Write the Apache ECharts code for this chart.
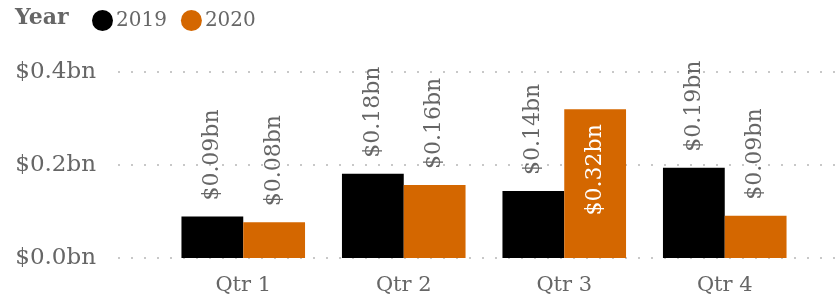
<!DOCTYPE html>
<html lang="en">
<head>
  <meta charset="UTF-8">
  <title>Revenue by quarter</title>
  <script src="https://cdn.jsdelivr.net/npm/echarts@6/dist/echarts.min.js"></script>
</head>
<body style="margin:0;width:837px;height:301px;overflow:hidden;background:#fff;">
  <div id="main" style="width:837px;height:301px;"></div>
</body>
<script>
  var quarters = ['Qtr 1', 'Qtr 2', 'Qtr 3', 'Qtr 4'];
  var years = ['2019', '2020'];
  var values2019 = [0.089, 0.181, 0.144, 0.194];
  var values2020 = [0.077, 0.157, 0.320, 0.091];
  var yTicks = [0, 0.2, 0.4];

  var FONT = 'Georgia, "DejaVu Serif", serif';
  var GREY = '#666';
  var colors = ['#000000', '#d46700'];

  var myChart = echarts.init(document.getElementById('main'));

  function money(v, d) {
    return '$' + v.toFixed(d) + 'bn';
  }

  // labels sit above the bar, or inside when the bar is tall
  function withLabels(arr) {
    return arr.map(function (v) {
      if (v > 0.25) {
        return {
          value: v,
          label: {
            position: 'insideTop',
            distance: 15,
            align: 'right',
            color: '#fff'
          }
        };
      }
      return v;
    });
  }

  var labelStyle = {
    show: true,
    position: 'top',
    distance: 16,
    rotate: 90,
    align: 'left',
    verticalAlign: 'middle',
    color: GREY,
    fontFamily: FONT,
    fontSize: 22,
    formatter: function (p) { return money(p.value, 2); }
  };

  var option = {
    backgroundColor: '#fff',
    animation: false,
    textStyle: { fontFamily: FONT },
    title: {
      text: 'Year',
      left: 10,
      top: 2,
      textStyle: { color: GREY, fontFamily: FONT, fontSize: 22, fontWeight: 'bold' }
    },
    legend: {
      data: years,
      left: 87,
      top: 5,
      icon: 'circle',
      itemWidth: 21,
      itemHeight: 21,
      itemGap: 14,
      textStyle: { color: GREY, fontFamily: FONT, fontSize: 20, padding: [0, 0, 0, -2] }
    },
    grid: [
      { left: 118, right: 2, top: 72, bottom: 43 },
      { left: 163, right: 32, top: 72, bottom: 43 }
    ],
    xAxis: [
      { type: 'category', gridIndex: 0, data: quarters, show: false },
      {
        type: 'category',
        gridIndex: 1,
        data: quarters,
        axisLine: { show: false },
        axisTick: { show: false },
        axisLabel: { color: GREY, fontFamily: FONT, fontSize: 21, margin: 17 }
      }
    ],
    yAxis: [
      {
        type: 'value',
        gridIndex: 0,
        min: yTicks[0],
        max: yTicks[yTicks.length - 1],
        interval: yTicks[1] - yTicks[0],
        axisLine: { show: false },
        axisTick: { show: false },
        axisLabel: {
          color: GREY,
          fontFamily: FONT,
          fontSize: 23,
          margin: 22,
          formatter: function (v) { return money(v, 1); }
        },
        splitLine: { lineStyle: { color: '#c8c8c8', width: 2, type: [2, 11] } }
      },
      {
        type: 'value',
        gridIndex: 1,
        min: yTicks[0],
        max: yTicks[yTicks.length - 1],
        show: false,
        splitLine: { show: false }
      }
    ],
    series: [
      {
        name: years[0],
        type: 'bar',
        xAxisIndex: 1,
        yAxisIndex: 1,
        data: withLabels(values2019),
        itemStyle: { color: colors[0] },
        barGap: '0%',
        barCategoryGap: '23%',
        label: labelStyle
      },
      {
        name: years[1],
        type: 'bar',
        xAxisIndex: 1,
        yAxisIndex: 1,
        data: withLabels(values2020),
        itemStyle: { color: colors[1] },
        barGap: '0%',
        barCategoryGap: '23%',
        label: labelStyle
      }
    ]
  };

  myChart.setOption(option);
</script>
</html>
